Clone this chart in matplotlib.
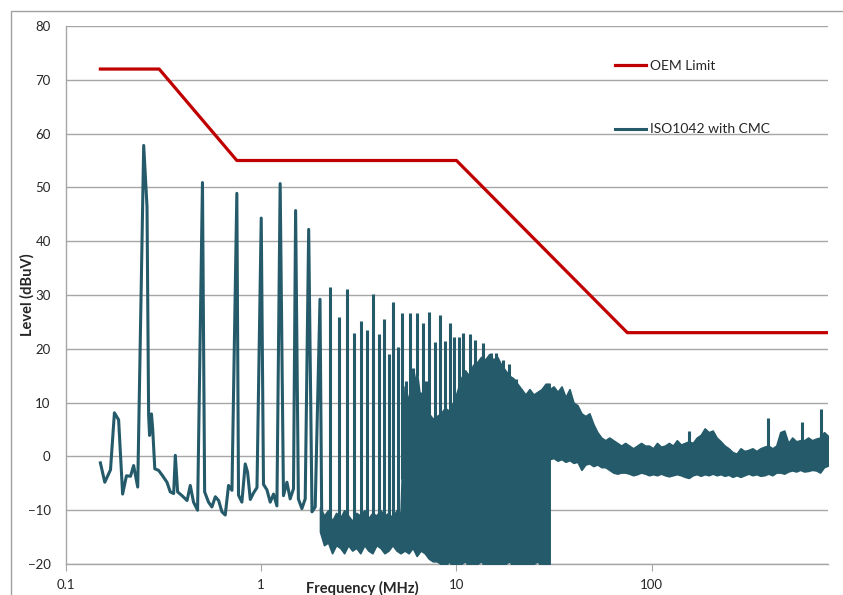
import numpy as np
import matplotlib.pyplot as plt
from matplotlib.patches import Rectangle
from matplotlib.ticker import NullLocator

plt.rcParams['font.family'] = ['Lato', 'DejaVu Sans']

TRACE = '#245A69'
LIMIT = '#C00000'
GRID = '#A6A6A6'
TEXT = '#262626'

# OEM limit (MHz / dBuV)
limit_freq = [0.15, 0.3, 0.75, 10, 75, 800]
limit_level = [72, 72, 55, 55, 23, 23]

# ISO1042 with CMC, low frequency part read point by point
lf_freq = [0.15, 0.158, 0.169, 0.177, 0.186, 0.195, 0.204, 0.214, 0.222, 0.233,
           0.25, 0.26, 0.265, 0.268, 0.274, 0.278, 0.285, 0.298, 0.311, 0.329,
           0.342, 0.356, 0.363, 0.373, 0.393, 0.417, 0.433, 0.45, 0.472, 0.5,
           0.513, 0.537, 0.559, 0.582, 0.605, 0.629, 0.654, 0.68, 0.708, 0.75,
           0.765, 0.796, 0.828, 0.851, 0.879, 0.913, 0.951, 1.0, 1.027, 1.069,
           1.112, 1.156, 1.203, 1.25, 1.30, 1.354, 1.407, 1.463, 1.5, 1.55,
           1.615, 1.68, 1.75, 1.82, 1.89, 2.0, 2.04]
lf_level = [-1.2, -4.8, -2.5, 8.1, 6.8, -7.0, -3.6, -3.7, -1.7, -5.7,
            57.8, 46.4, 7.6, 3.9, 7.9, 5.1, -2.3, -2.6, -3.5, -4.8,
            -6.6, -6.9, 0.2, -6.6, -7.3, -8.2, -5.4, -8.5, -10.0, 50.9,
            -6.6, -8.5, -9.4, -7.5, -8.2, -10.3, -10.9, -5.4, -6.3, 48.9,
            -7.2, -8.5, -1.4, -2.9, -8.0, -6.8, -5.8, 44.3, -5.2, -6.2,
            -8.5, -7.0, -9.2, 50.7, -7.3, -4.8, -7.9, -6.0, 45.7, -7.9,
            -9.7, -7.9, 42.2, -10.3, -9.4, 29.2, -10.5]

# dense sweep 2-30 MHz: top and bottom of the band
band_hi = [-9.5, -11.0, -10.0, -12.0, -10.5, -11.5, -10.0, -11.0, -12.0, -10.5,
           -11.0, -10.0, -11.5, -10.5, -11.0, -10.0, -11.0, -10.5, -11.5, -10.0,
           -10.5, 13.0, 10.5, 12.0, 16.0, 10.0, 9.0, 8.0, 7.0, 7.5,
           8.0, 9.0, 8.5, 10.0, 12.0, 14.5, 16.0, 15.0, 17.0, 17.5,
           18.5, 18.0, 19.0, 18.0, 18.5, 17.0, 16.0, 15.0, 14.5, 13.5,
           12.5, 11.5, 12.5, 11.5, 12.0, 12.5, 13.5, 13.5]
band_lo = [-14.0, -16.5, -16.0, -18.0, -16.5, -17.0, -18.0, -16.5, -17.5, -17.0,
           -18.0, -16.5, -17.5, -18.0, -16.5, -17.0, -18.0, -17.5, -16.5, -17.5,
           -18.0, -17.5, -18.0, -17.0, -18.5, -17.5, -18.0, -19.0, -19.5, -19.5,
           -20.0, -20.5, -19.5, -20.5, -21.0, -20.0, -19.5, -20.5, -21.0, -20.0,
           -19.5, -20.5, -21.0, -20.0, -20.5, -21.0, -20.0, -19.5, -20.5, -21.0,
           -20.0, -20.5, -21.0, -20.0, -19.5, -20.5, -20.0, -20.5]

# sweep 30-800 MHz
hf_hi = [12.5, 13.0, 12.0, 13.0, 11.0, 12.5, 10.0, 9.5, 8.0, 7.5,
         8.0, 6.0, 4.5, 3.5, 3.0, 3.5, 3.0, 2.5, 2.0, 2.5,
         2.0, 1.5, 2.0, 2.5, 2.0, 2.0, 1.5, 2.5, 1.8, 2.0,
         2.5, 2.0, 3.0, 2.2, 2.5, 2.8, 2.5, 3.5, 4.0, 5.2,
         4.5, 4.8, 3.5, 2.8, 2.0, 1.5, 0.8, 0.5, 1.5, 1.0,
         1.2, 1.5, 1.0, 1.5, 1.8, 2.0, 1.5, 2.0, 4.5, 4.8,
         2.5, 3.5, 2.8, 3.0, 3.0, 3.5, 3.0, 3.3, 3.5, 4.5,
         3.8]
hf_lo = [-0.5, -0.3, -0.8, -0.5, -1.0, -0.7, -1.2, -1.0, -2.5, -1.5,
         -1.3, -1.8, -1.5, -2.0, -2.0, -2.5, -3.0, -3.2, -3.0, -3.0,
         -3.2, -3.5, -3.3, -3.0, -3.2, -3.5, -3.3, -3.5, -3.2, -3.5,
         -3.7, -3.5, -3.3, -3.5, -3.8, -4.0, -3.5, -3.3, -3.6, -3.3,
         -3.5, -3.2, -3.5, -3.3, -3.6, -3.4, -3.8, -3.5, -3.8, -3.5,
         -3.2, -3.5, -3.3, -3.6, -3.5, -3.2, -3.5, -3.0, -3.0, -3.2,
         -2.8, -2.6, -2.8, -2.5, -2.8, -2.7, -2.5, -2.6, -3.0, -2.0,
         -1.7]

# narrow spikes standing out of the band
spike_freq = [2.25, 2.5, 2.75, 3.0, 3.25, 3.5, 3.75, 4.0, 4.25, 4.5,
              4.75, 5.0, 5.25, 5.5, 5.75, 6.0, 6.25, 6.5, 6.75, 7.0,
              7.25, 7.75, 8.25, 8.75, 9.25, 9.75, 10.25, 10.75, 11.75, 12.5,
              13.75, 15.0, 16.0, 17.25, 18.5, 20.25, 21.5,
              156, 395, 592, 738]
spike_level = [31.5, 26.0, 31.2, 23.0, 25.2, 23.5, 30.1, 22.7, 25.5, 19.0,
               28.7, 20.3, 26.6, 14.0, 26.6, 16.5, 26.7, 12.0, 24.8, 14.0,
               26.9, 21.3, 26.3, 21.5, 24.8, 22.2, 22.2, 22.9, 22.7, 21.6,
               21.0, 19.3, 19.3, 18.0, 17.2, 14.4, 12.5,
               4.8, 7.2, 6.4, 8.8]

# sweep grids of the two dense parts
band_freq = np.geomspace(2.0, 30.0, len(band_hi))
hf_freq = np.geomspace(30.0, 800.0, len(hf_hi))

fig = plt.figure(figsize=(8.43, 5.95), dpi=100)
ax = fig.add_axes([66 / 843, 1 - 564 / 595, (828 - 66) / 843, (564 - 26) / 595])

# chart area border, cut by the picture on the right and bottom
fig.add_artist(Rectangle((11 / 843, -0.1), 2, 1.1 - 11 / 595, transform=fig.transFigure,
                         fill=False, ec='#A0A0A0', lw=1))

limit_line, = ax.plot(limit_freq, limit_level, color=LIMIT, lw=2.3, zorder=4,
                      solid_joinstyle='round', label='OEM Limit')
trace_line, = ax.plot(lf_freq, lf_level, color=TRACE, lw=2.2, zorder=3,
                      solid_joinstyle='round', label='ISO1042 with CMC')
ax.fill_between(band_freq, band_lo, band_hi, color=TRACE, lw=1.2, ec=TRACE, zorder=3)
ax.fill_between(hf_freq, hf_lo, hf_hi, color=TRACE, lw=1.2, ec=TRACE, zorder=3)

all_f = np.concatenate([band_freq, hf_freq])
all_hi = np.concatenate([band_hi, hf_hi])
spike_base = np.interp(np.log10(spike_freq), np.log10(all_f), all_hi) - 1
ax.vlines(spike_freq, spike_base, spike_level, color=TRACE, lw=2.2, zorder=3)

ax.set_xscale('log')
ax.set_xlim(0.1, 800)
ax.set_ylim(-20, 80)
ax.set_xticks([0.1, 1, 10, 100])
ax.set_xticklabels(['0.1', '1', '10', '100'])
ax.xaxis.set_minor_locator(NullLocator())
ax.set_yticks(range(-20, 81, 10))

ax.yaxis.grid(True, color=GRID, lw=1)
ax.set_axisbelow(True)
for side in ['top', 'right']:
    ax.spines[side].set_visible(False)
for side in ['left', 'bottom']:
    ax.spines[side].set_color(GRID)
    ax.spines[side].set_linewidth(1)

ax.tick_params(axis='y', length=0, pad=11, labelsize=9.5, labelcolor=TEXT)
ax.tick_params(axis='x', length=5, color=GRID, pad=6, labelsize=9.5, labelcolor=TEXT)

ax.set_xlabel('Frequency (MHz)', fontsize=10.5, fontweight='bold', color=TEXT)
ax.set_ylabel('Level (dBuV)', fontsize=10.5, fontweight='bold', color=TEXT)
ax.xaxis.set_label_coords((362 - 66) / 762, (564 - 581) / 538)
ax.yaxis.set_label_coords((35 - 66) / 762, 0.5)

ax.legend(handles=[limit_line, trace_line], loc='upper left',
          bbox_to_anchor=((615 - 66) / 762, (564 - 60) / 538),
          frameon=False, borderpad=0, borderaxespad=0, fontsize=10,
          handlelength=2.2, handletextpad=0.35, labelspacing=3.7,
          labelcolor=TEXT)

fig.savefig('out.png', dpi=100)
